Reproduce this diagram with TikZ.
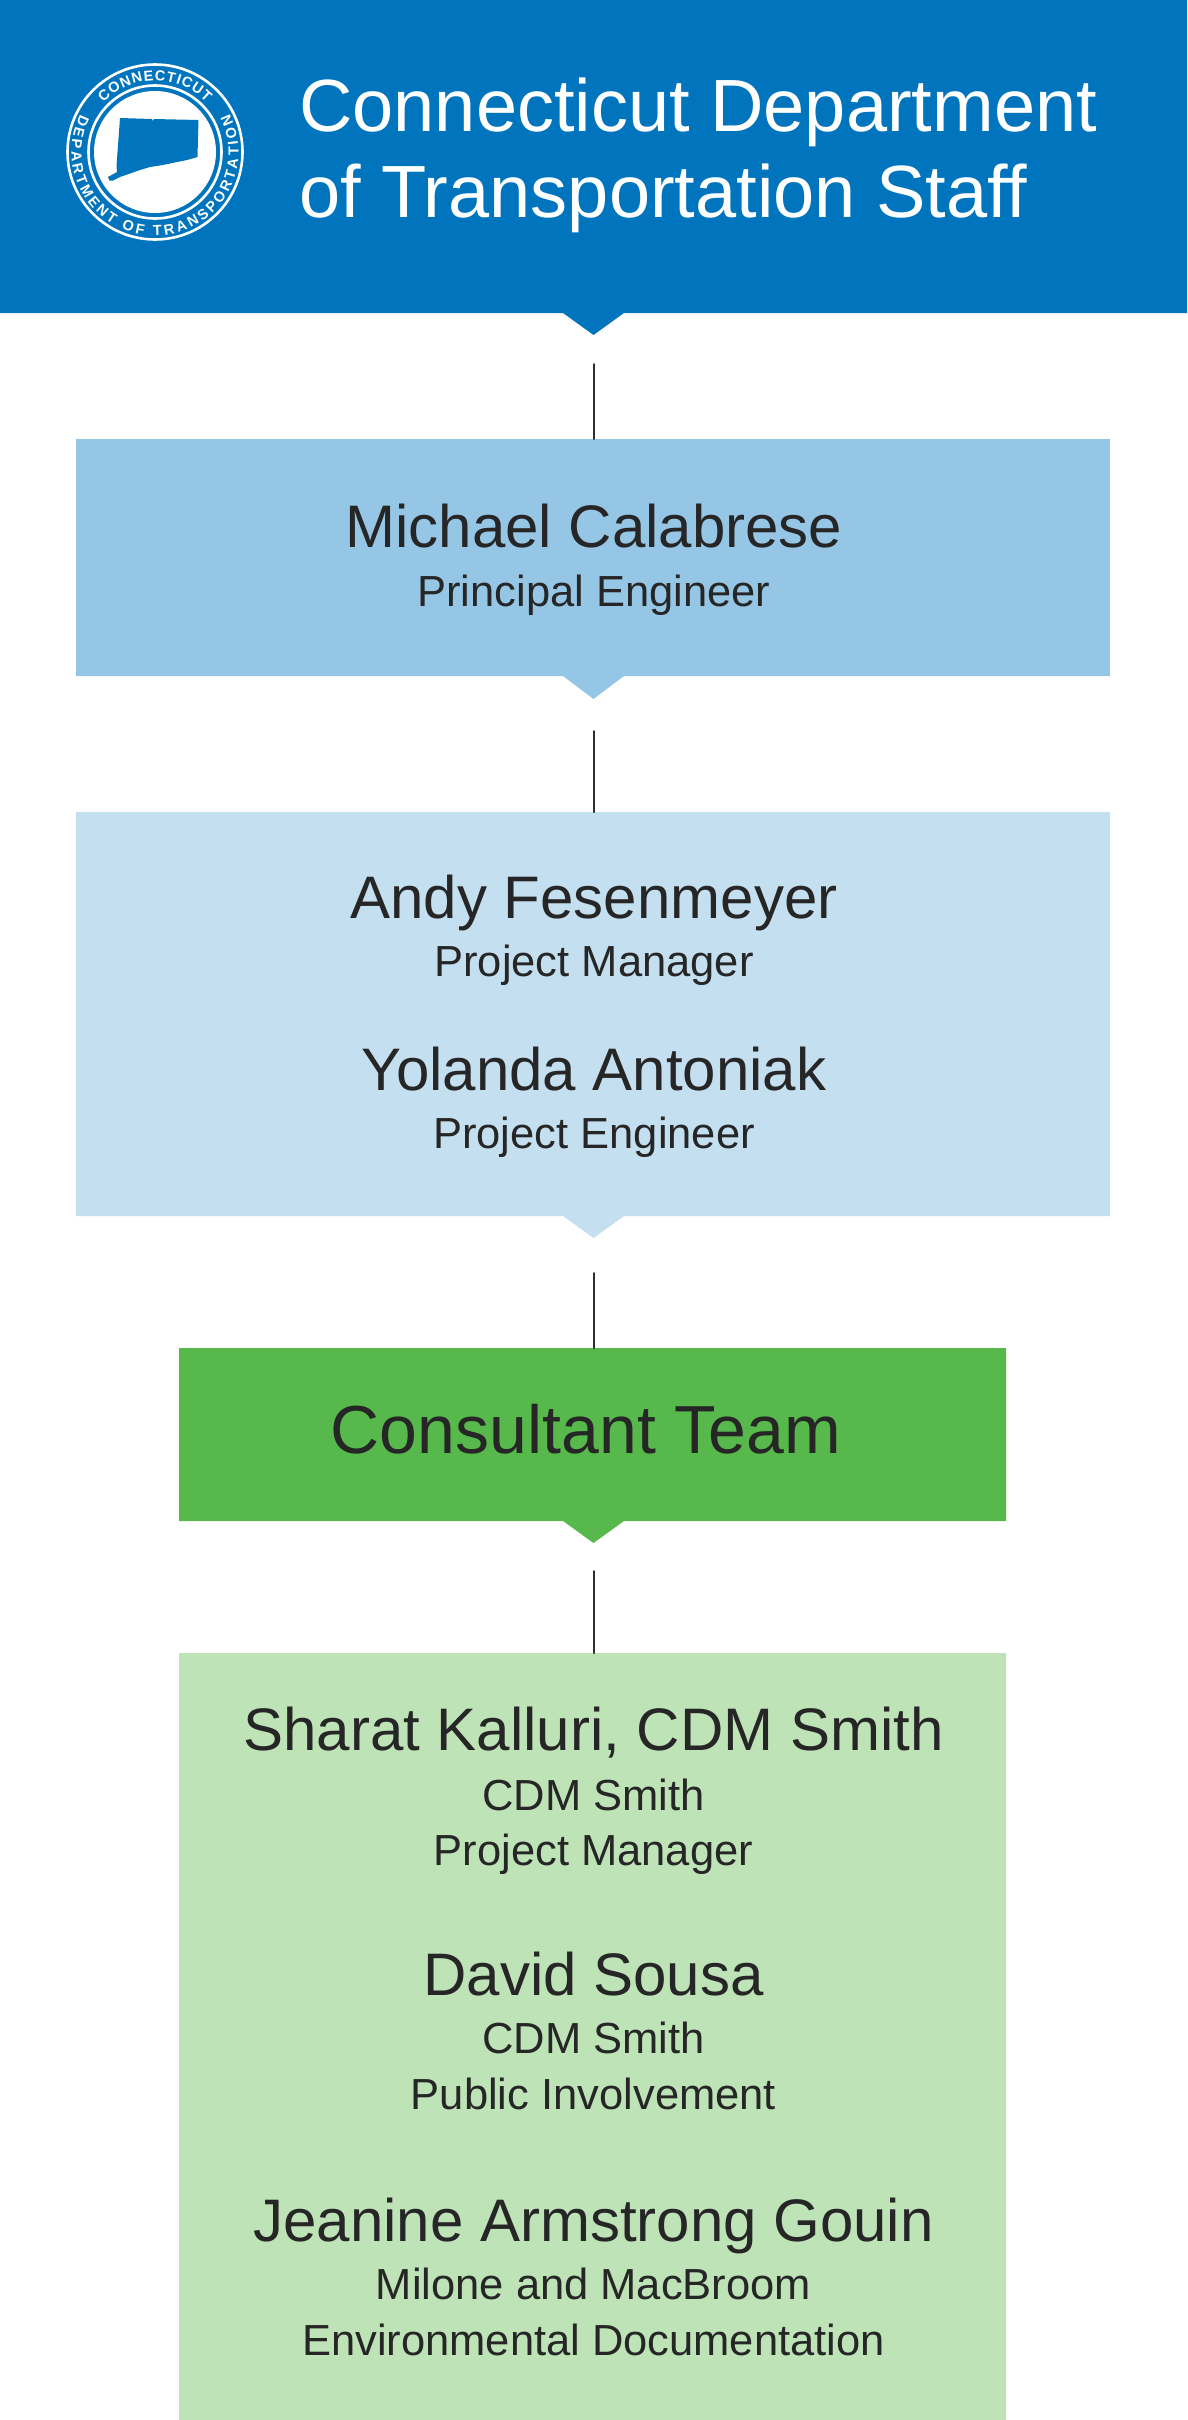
\documentclass[tikz,border=0pt]{standalone}
\usepackage{fontspec}
\setmainfont{Liberation Sans}
\usepackage{tkz-euclide}
\usetikzlibrary{decorations.text}

\definecolor{dotblue}{HTML}{0075BE}
\definecolor{leadblue}{HTML}{96C6E6}
\definecolor{pmblue}{HTML}{C4DFF0}
\definecolor{teamgreen}{HTML}{57B94B}
\definecolor{staffgreen}{HTML}{BDE3B7}
\definecolor{inkgray}{HTML}{262626}
\definecolor{linkgray}{HTML}{2F2F2F}

\tikzset{
  person/.style={anchor=base, inner sep=0pt, text=inkgray, font=\fontsize{60}{60}\selectfont},
  role/.style={anchor=base, inner sep=0pt, text=inkgray, font=\fontsize{43.5}{43.5}\selectfont},
  title/.style={anchor=base west, inner sep=0pt, text=white, font=\fontsize{74}{74}\selectfont},
  seal/.style={decorate, decoration={text along path, text color=white, text align=fit to path}}
}
\newcommand{\sealfont}{\bfseries\fontsize{14.5}{14.5}\selectfont}

\begin{document}
\begin{tikzpicture}[x=1pt,y=1pt]
\useasboundingbox (0,0) rectangle (1187,-2420);
\tkzDefPoints{0/0/hA,1187/0/hB,1187/-313/hC,624/-313/hD,593.5/-335/hE,563/-313/hF,0/-313/hG}
\tkzDefPoints{76/-439/mA,1110/-439/mB,1110/-676/mC,624/-676/mD,593.5/-699/mE,563/-676/mF,76/-676/mG}
\tkzDefPoints{76/-812/pA,1110/-812/pB,1110/-1216/pC,624/-1216/pD,593.5/-1238/pE,563/-1216/pF,76/-1216/pG}
\tkzDefPoints{179/-1348/cA,1006/-1348/cB,1006/-1521/cC,624/-1521/cD,593.5/-1543/cE,563/-1521/cF,179/-1521/cG}
\tkzDefPoints{179/-1653/sA,1006/-1653/sB,1006/-2420/sC,179/-2420/sD}
\tkzDefPoints{593.5/-364/hL,593.5/-439/mT,593.5/-731/mL,593.5/-812/pT,593.5/-1273/pL,593.5/-1348/cT,593.5/-1571/cL,593.5/-1653/sT}
\tkzDefPoint(155,-152){O}
\tkzFillPolygon[color=dotblue](hA,hB,hC,hD,hE,hF,hG)
\tkzFillPolygon[color=leadblue](mA,mB,mC,mD,mE,mF,mG)
\tkzFillPolygon[color=pmblue](pA,pB,pC,pD,pE,pF,pG)
\tkzFillPolygon[color=teamgreen](cA,cB,cC,cD,cE,cF,cG)
\tkzFillPolygon[color=staffgreen](sA,sB,sC,sD)
\tkzDrawSegments[color=linkgray,line width=2pt](hL,mT mL,pT pL,cT cL,sT)
% seal
\draw[white,line width=2.6pt] (O) circle[radius=87.5] (O) circle[radius=66.5];
\fill[white] (O) circle[radius=61];
\fill[dotblue] (120,-118) -- (152,-119) -- (152,-121) -- (154,-119) -- (198.5,-120) -- (197.5,-157) -- (187,-160) -- (177,-162) -- (163,-165) -- (150,-167) -- (140,-170) -- (130,-173.5) -- (120,-177) -- (113,-180.5) -- (109.5,-180.5) -- (108,-177) -- (117,-172) -- (116.5,-166) -- cycle;
\path[shift={(O)},seal,decoration={text={|\sealfont|CONNECTICUT}}] (136:71.5) arc[start angle=136, end angle=44, radius=71.5];
\path[shift={(O)},seal,decoration={text={|\sealfont|DEPARTMENT OF TRANSPORTATION}}] (153:83.5) arc[start angle=153, end angle=387, radius=83.5];
\node[title] (dept) at (299,-131) {Connecticut Department};
\node[title] (staff) at (299,-217) {of Transportation Staff};
\node[person] (calabrese) at (594,-547) {Michael Calabrese};
\node[role] (calabreserole) at (594,-606) {Principal Engineer};
\node[person] (fesenmeyer) at (594,-918) {Andy Fesenmeyer};
\node[role] (fesenmeyerrole) at (594,-976) {Project Manager};
\node[person] (antoniak) at (594,-1090) {Yolanda Antoniak};
\node[role] (antoniakrole) at (594,-1148) {Project Engineer};
\node[anchor=base,inner sep=0pt,text=inkgray,font=\fontsize{68}{68}\selectfont] (team) at (586,-1453) {Consultant Team};
\node[person] (kalluri) at (593.5,-1750) {Sharat Kalluri, CDM Smith};
\node[role] (kallurifirm) at (593.5,-1810) {CDM Smith};
\node[role] (kallurirole) at (593.5,-1865) {Project Manager};
\node[person] (sousa) at (593.5,-1995) {David Sousa};
\node[role] (sousafirm) at (593.5,-2053) {CDM Smith};
\node[role] (sousarole) at (593.5,-2109) {Public Involvement};
\node[person] (gouin) at (593.5,-2241) {Jeanine Armstrong Gouin};
\node[role] (gouinfirm) at (593.5,-2299) {Milone and MacBroom};
\node[role] (gouinrole) at (593.5,-2355) {Environmental Documentation};
\end{tikzpicture}
\end{document}
